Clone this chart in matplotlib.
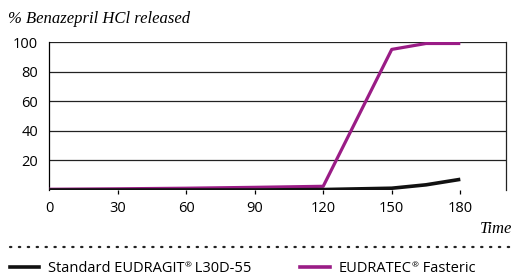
import matplotlib
matplotlib.use("Agg")
import matplotlib.pyplot as plt
from matplotlib.lines import Line2D

# data
time = [0, 30, 60, 90, 120, 150, 165, 180]
standard = [0, 0, 0, 0, 0.3, 1.2, 3.5, 7.2]
fasteric = [0.5, 0.8, 1.2, 1.8, 2.5, 95, 99, 99]
xticks = [0, 30, 60, 90, 120, 150, 180]
yticks = [20, 40, 60, 80, 100]

purple = "#9a1c86"
sans = "Open Sans"
serif = "Liberation Serif"

fig = plt.figure(figsize=(5.15, 2.75), dpi=100)
ax = fig.add_axes([49 / 515, 85 / 275, 457 / 515, 148 / 275])

# horizontal grid lines
for y in yticks:
    ax.axhline(y, color="#222222", lw=0.9, zorder=1)

ax.plot(time, fasteric, color=purple, lw=2.3, solid_capstyle="butt", zorder=3)
ax.plot(time, standard, color="#111111", lw=2.6, solid_capstyle="butt", zorder=4)

ax.set_xlim(0, 200)
ax.set_ylim(0, 100)
ax.set_xticks(xticks)
ax.set_yticks(yticks)
ax.set_xticklabels([str(t) for t in xticks], fontsize=10.5, family=sans)
ax.set_yticklabels([str(t) for t in yticks], fontsize=10.5, family=sans)
ax.tick_params(axis="y", length=0, pad=8)
ax.tick_params(axis="x", length=3, width=0.9, direction="out", pad=5)
ax.xaxis.get_major_ticks()[0].tick1line.set_visible(False)

ax.spines["bottom"].set_visible(False)
ax.spines["top"].set_visible(False)
ax.spines["left"].set_linewidth(0.9)
ax.spines["right"].set_linewidth(0.9)
ax.spines["right"].set_color("#222222")

fig.text(8 / 515, 1 - 19 / 275, "% Benazepril HCl released", family=serif,
         style="italic", fontsize=12, va="center", ha="left")
fig.text(512 / 515, 1 - 229 / 275, "Time", family=serif, style="italic",
         fontsize=12, va="center", ha="right")

# dotted separator
fig.add_artist(Line2D([10 / 515, 1.0], [1 - 247 / 275] * 2, transform=fig.transFigure,
                      color="#222222", lw=1.6, linestyle=(0, (0.6, 3.4)),
                      dash_capstyle="round"))


# legend label with a small raised ® sign
def label(x, y, before, after):
    t1 = fig.text(x, y, before, family=sans, fontsize=10.5, va="baseline", ha="left")
    reg = fig.add_artist(plt.Annotation("®", xy=(1, y + 4.5 / 275),
                                        xycoords=(t1, "figure fraction"),
                                        family=sans, fontsize=6, va="baseline", ha="left"))
    fig.add_artist(plt.Annotation(after, xy=(1, y), xycoords=(reg, "figure fraction"),
                                  family=sans, fontsize=10.5, va="baseline", ha="left"))


lb = 1 - 271.5 / 275
ly = 1 - 267 / 275
fig.add_artist(Line2D([10 / 515, 39 / 515], [ly, ly], transform=fig.transFigure,
                      color="#111111", lw=2.6))
label(48 / 515, lb, "Standard EUDRAGIT", " L30D-55")
fig.add_artist(Line2D([300 / 515, 330 / 515], [ly, ly], transform=fig.transFigure,
                      color=purple, lw=2.6))
label(339 / 515, lb, "EUDRATEC", " Fasteric")

fig.savefig("out.png", dpi=100)
